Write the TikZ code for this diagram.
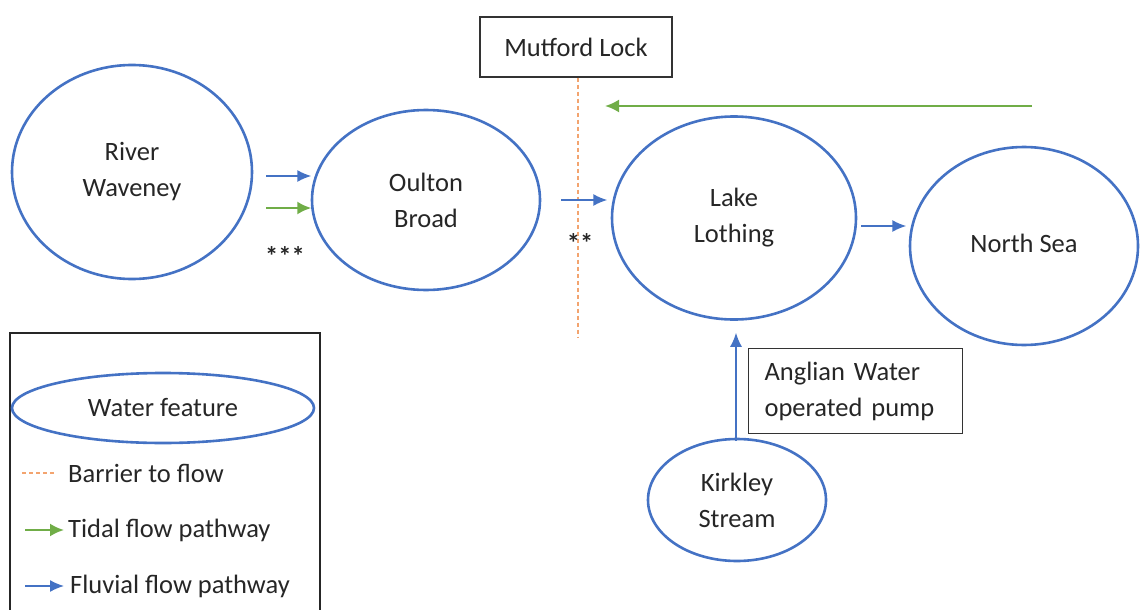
\documentclass[tikz,border=0pt]{standalone}
\usepackage{fontspec}
\setmainfont{Carlito}
\usetikzlibrary{calc, positioning, shapes.geometric, arrows.meta}
\definecolor{featblue}{RGB}{68,114,196}
\definecolor{tidegreen}{RGB}{112,173,71}
\definecolor{barrierorange}{RGB}{237,125,49}
\newcommand{\diagfont}{\fontsize{26.5}{36}\selectfont}
\tikzset{
    waternode/.style = {draw=featblue, ellipse, line width=2.6pt, inner sep=0pt, align=center,
      text=black!85, font=\diagfont},
    boxnode/.style = {draw=black!80, rectangle, line width=1.2pt, inner sep=0pt, text=black!85, font=\diagfont},
    textnode/.style = {draw=none, inner sep=0pt, text=black!85, font=\diagfont},
    fluvial/.style = {featblue, line width=1.5pt, -{Latex[length=14pt, width=12pt]}},
    tidal/.style = {tidegreen, line width=2.2pt, -{Latex[length=14pt, width=13pt]}},
    barrier/.style = {barrierorange!70, dash pattern=on 4pt off 3pt, line width=1.2pt}
}
\begin{document}
\begin{tikzpicture}[x=1pt, y=-1pt]
\useasboundingbox (0,0) rectangle (1140,610);

% water features
\node[waternode, minimum width=240, minimum height=214] (river) at (132,172) {River\\Waveney};
\node[waternode, minimum width=228, minimum height=180] (oulton) at (426,200) {Oulton\\Broad};
\node[waternode, minimum width=244, minimum height=203] (lake) at (734,218) {Lake\\Lothing};
\node[waternode, minimum width=228, minimum height=198] (sea) at (1024,246) {\raisebox{6pt}{North Sea}};
\node[waternode, minimum width=178, minimum height=122] (kirkley) at (737,500) {Kirkley\\Stream};

% boxes
\node[boxnode, minimum width=192, minimum height=60] (mutford) at (576,47) {Mutford Lock};
\node[boxnode, anchor=north west, minimum width=214, minimum height=85, inner xsep=16pt,
  text width=182, align=left] (pump) at (748,348) {Anglian Water\\operated pump};

% barrier
\coordinate (lockend) at (578,338);
\draw[barrier] (mutford.south -| lockend) -- (lockend);

% flows
\draw[fluvial] ($(river.east)+(13,4)$) -- ++(45,0);
\draw[tidal] ($(river.east)+(13,36)$) -- ++(45,0);
\draw[fluvial] ($(oulton.east)+(20,0)$) -- ++(46,0);
\draw[fluvial] ($(lake.east)+(4,8)$) -- ++(45,0);
\draw[fluvial] ($(kirkley.north)+(-1,3)$) -- ($(lake.south)+(2,12)$);
\coordinate (tidestart) at (1032,106);
\coordinate (tideend) at (605,106);
\draw[tidal] (tidestart) -- (tideend);

\node[textnode] (stars3) at (285,256) {\bfseries ***};
\node[textnode] (stars2) at (580,243) {\bfseries **};

% legend
\draw[black!85, line width=2.2pt] (10,640) -- (10,333) -- (320,333) -- (320,640);
\node[waternode, minimum width=302, minimum height=70] (legfeat) at (163,408) {Water feature};
\coordinate (barA) at (22,473);
\coordinate (barB) at (56,473);
\draw[barrier] (barA) -- (barB);
\node[textnode, anchor=west] (legbarrier) at (68,473) {Barrier to flow};
\coordinate (tidA) at (25,530);
\coordinate (tidB) at (64,530);
\draw[tidal] (tidA) -- (tidB);
\node[textnode, anchor=west] (legtidal) at (68,530) {Tidal flow pathway};
\coordinate (fluA) at (25,586);
\coordinate (fluB) at (64,586);
\draw[fluvial] (fluA) -- (fluB);
\node[textnode, anchor=west] (legfluvial) at (70,586) {Fluvial flow pathway};
\end{tikzpicture}
\end{document}
